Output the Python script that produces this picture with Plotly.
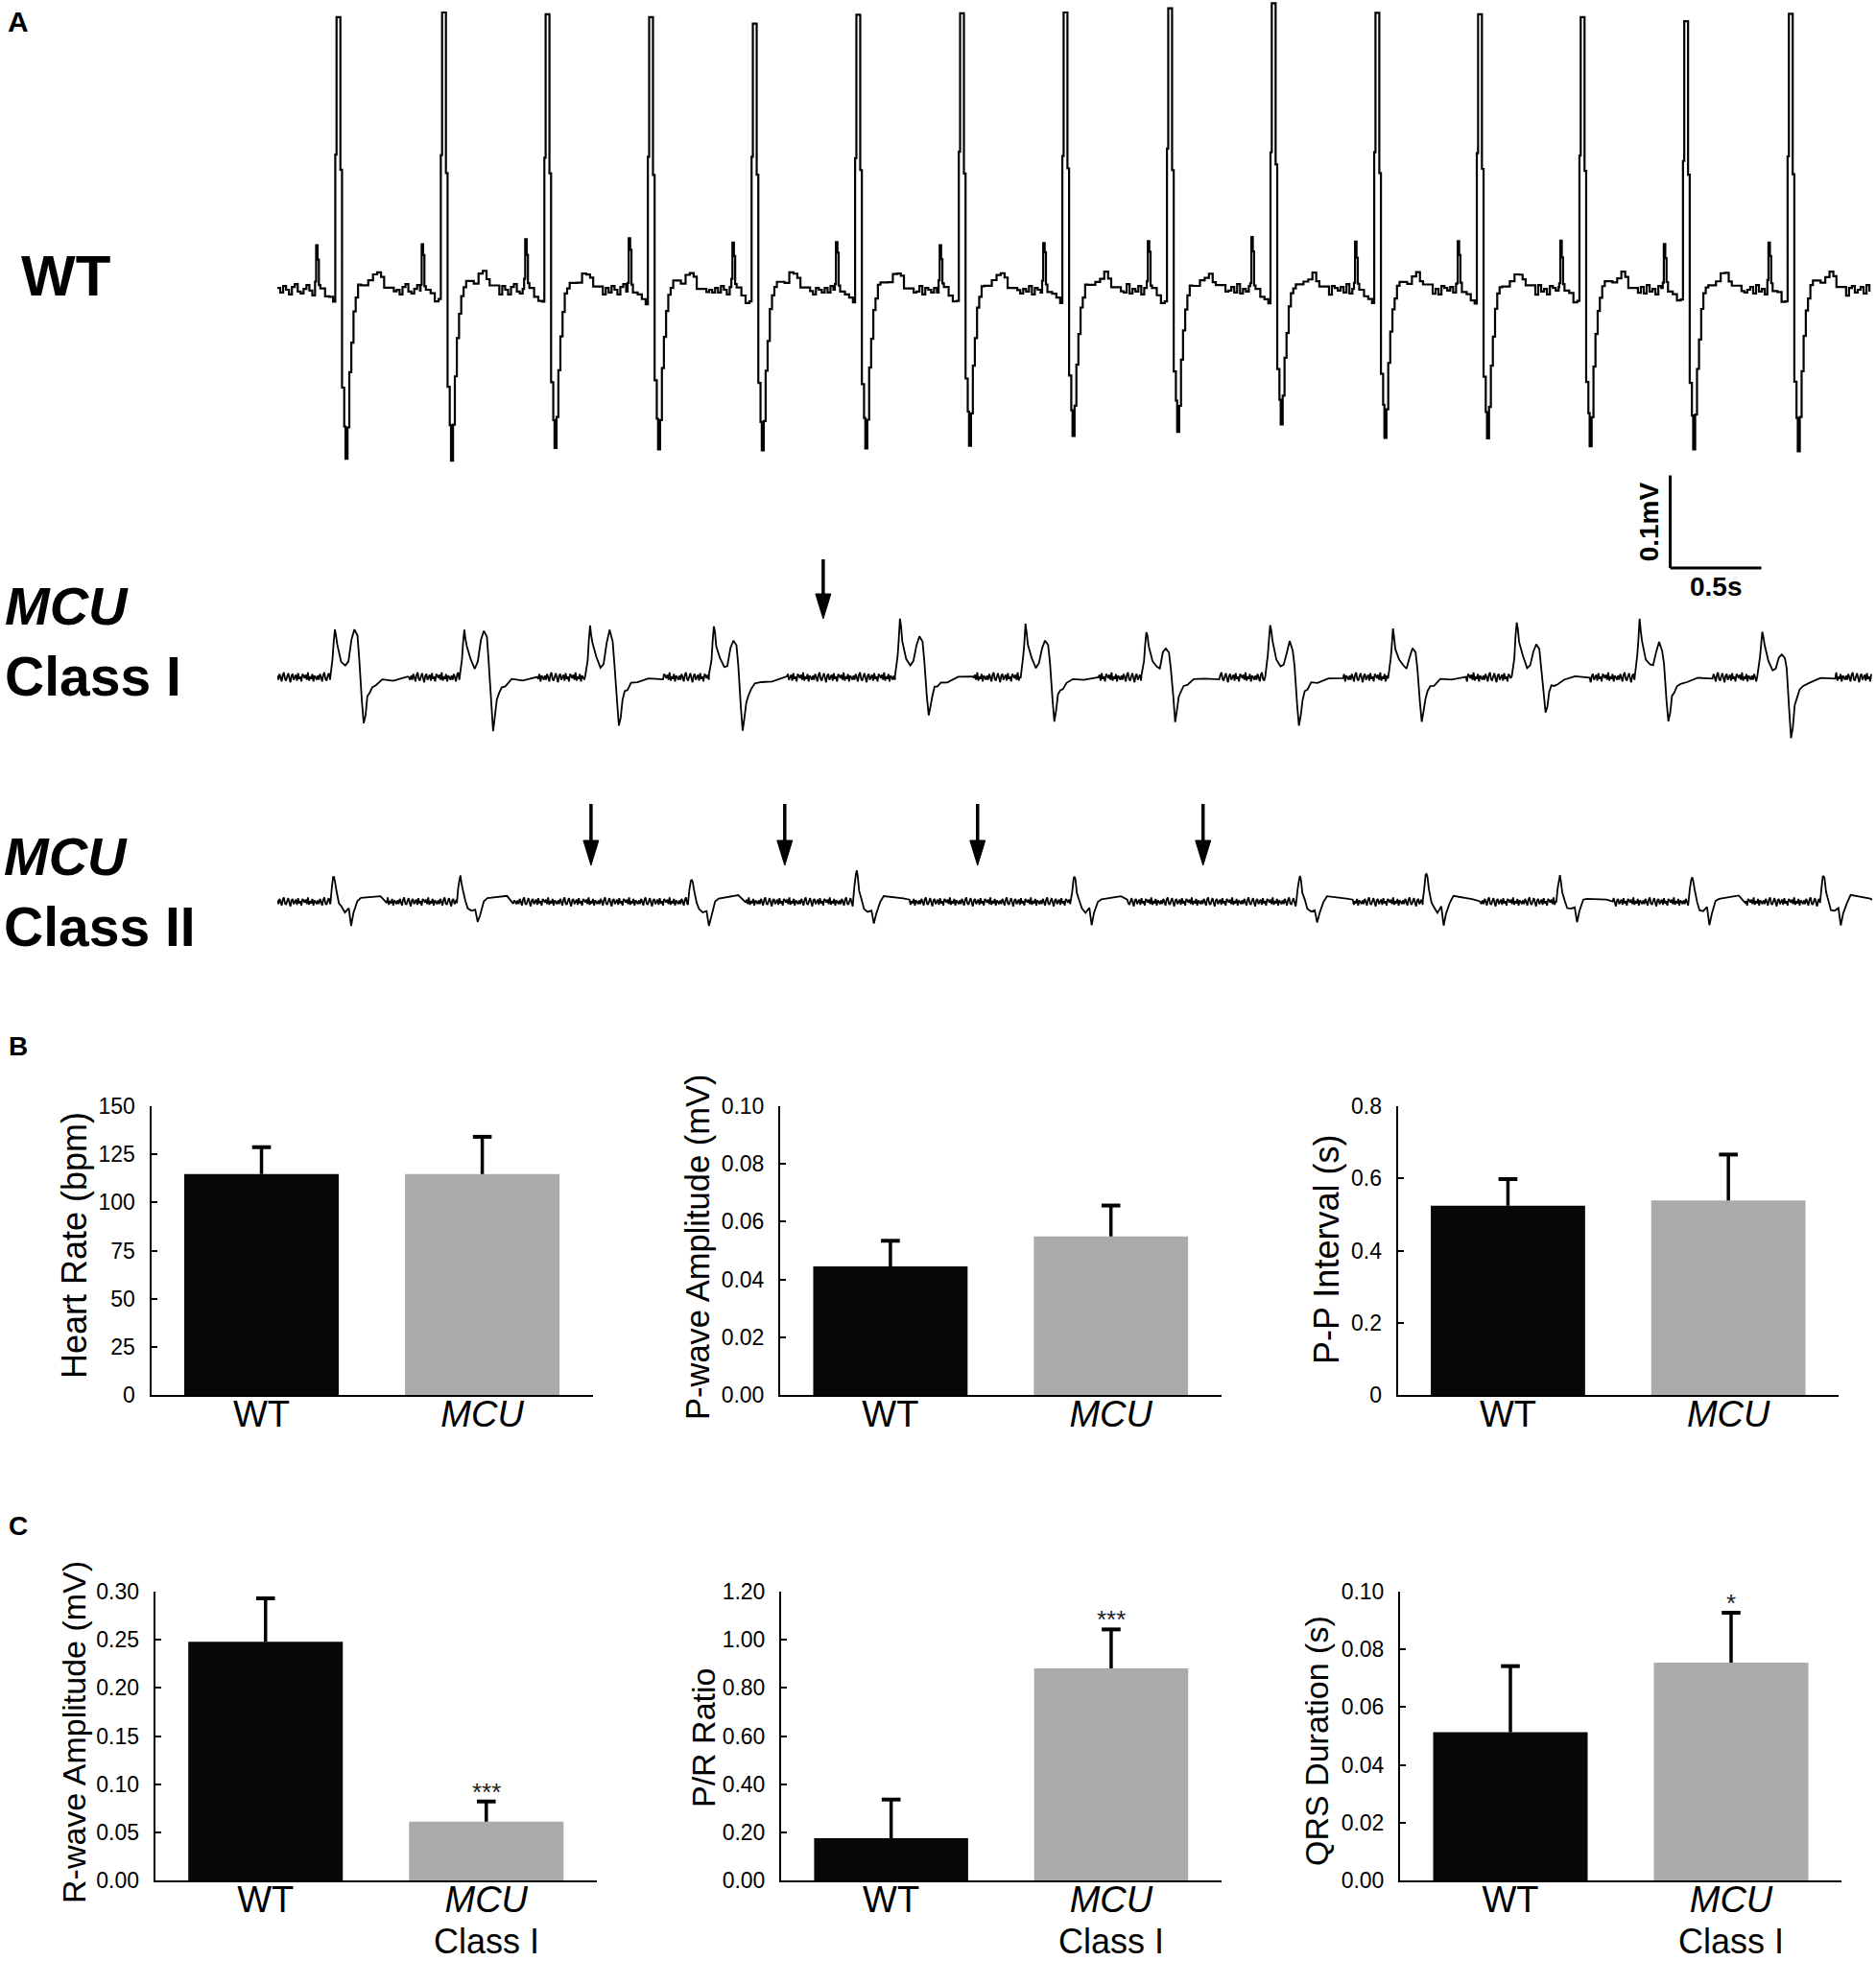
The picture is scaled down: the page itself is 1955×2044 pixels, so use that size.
import plotly.graph_objects as go

FIG_W, FIG_H = 1955, 2044
FONT = "Liberation Sans, Arial, Helvetica, sans-serif"
WT_COLOR = "#070707"
MCU_COLOR = "#adaaaa"

# ------------------------------------------------------------------
# Panel A - surface ECG. time in s, voltage in mV
# ------------------------------------------------------------------
TRACE_END_S = 8.75

# WT: R-peak times and per-beat P / R / S amplitudes
WT_BEATS = [0.332, 0.911, 1.479, 2.047, 2.616, 3.184, 3.753, 4.321,
            4.895, 5.463, 6.032, 6.595, 7.158, 7.726, 8.300]
WT_P_AMP = [0.046, 0.048, 0.055, 0.055, 0.052, 0.050, 0.048, 0.052,
            0.054, 0.056, 0.050, 0.052, 0.050, 0.048, 0.050]
WT_R_AMP = [0.297, 0.299, 0.295, 0.293, 0.289, 0.296, 0.299, 0.299,
            0.305, 0.308, 0.299, 0.299, 0.296, 0.289, 0.296]
WT_S_AMP = [0.184, 0.184, 0.173, 0.173, 0.176, 0.173, 0.167, 0.159,
            0.153, 0.146, 0.159, 0.162, 0.169, 0.171, 0.173]

# one WT complex: time from R (s), fraction of the part's amplitude, part (0=P, 1=R, 2=S)
WT_SHAPE_T = [-0.125, -0.119, -0.111, -0.104, -0.096, -0.070, -0.047, -0.026,
              -0.014, -0.007, 0.014, 0.023, 0.035, 0.042, 0.053, 0.063,
              0.074, 0.086, 0.098, 0.111, 0.125, 0.167, 0.193, 0.216,
              0.237, 0.254, 0.307]
WT_SHAPE_V = [0.17, 1.0, 0.74, 0.11, 0.0, -0.11, -0.22, -0.26,
              0.49, 1.0, 0.43, -0.58, -0.80, -1.0, -0.80, -0.50,
              -0.30, -0.13, -0.04, 0.02, 0.04, 0.05, 0.09, 0.11,
              0.07, 0.02, -0.02]
WT_SHAPE_PART = [0, 0, 0, 0, 0, 0, 0, 0,
                 1, 1, 1, 2, 2, 2, 2, 2,
                 2, 2, 2, 2, 2, 2, 2, 2,
                 2, 2, 2]

# MCU class I: first-peak times, per-beat peak 1 / peak 2 / trough amplitudes
C1_BEATS = [0.316, 1.026, 1.716, 2.395, 3.416, 4.105, 4.768, 5.447,
            6.121, 6.800, 7.474, 8.147]
C1_PK1_AMP = [0.053, 0.052, 0.056, 0.056, 0.062, 0.057, 0.051, 0.059,
              0.051, 0.061, 0.061, 0.051]
C1_PK2_AMP = [0.054, 0.052, 0.049, 0.041, 0.047, 0.042, 0.033, 0.037,
              0.031, 0.037, 0.037, 0.026]
C1_TR_AMP = [0.051, 0.056, 0.054, 0.059, 0.041, 0.046, 0.046, 0.054,
             0.049, 0.038, 0.048, 0.068]
C1_SHAPE_T = [-0.027, -0.013, -0.007, 0.0, 0.006, 0.013, 0.034, 0.057,
              0.074, 0.091, 0.107, 0.124, 0.134, 0.148, 0.158, 0.168,
              0.178, 0.190, 0.205, 0.225, 0.260, 0.320, 0.400]
C1_SHAPE_V = [0.0, 0.36, 0.67, 1.0, 0.85, 0.64, 0.35, 0.20,
              0.33, 0.75, 1.0, 0.80, 0.32, -0.5, -1.0, -0.78,
              -0.45, -0.30, -0.22, -0.15, -0.08, -0.03, 0.0]
C1_SHAPE_PART = [0, 0, 0, 0, 0, 0, 0, 0,
                 1, 1, 1, 1, 1, 2, 2, 2,
                 2, 2, 2, 2, 2, 2, 2]
C1_DROPPED = [2.995]

# MCU class II: spike times, per-beat spike / trough amplitudes
C2_BEATS = [0.311, 1.005, 2.274, 3.179, 4.374, 5.611, 6.305, 7.037,
            7.763, 8.484]
C2_PK_AMP = [0.028, 0.028, 0.026, 0.034, 0.028, 0.028, 0.032, 0.028,
             0.028, 0.029]
C2_TR_AMP = [0.024, 0.024, 0.028, 0.025, 0.024, 0.024, 0.024, 0.020,
             0.024, 0.025]
C2_SHAPE_T = [-0.020, -0.013, -0.005, 0.0, 0.005, 0.013, 0.027, 0.040,
              0.060, 0.081, 0.094, 0.107, 0.128, 0.148, 0.255, 0.289]
C2_SHAPE_V = [0.0, 0.44, 0.9, 1.0, 0.8, 0.40, 0.0, -0.28,
              -0.45, -0.30, -1.0, -0.55, 0.0, 0.2, 0.2, 0.0]
C2_SHAPE_PART = [0, 0, 0, 0, 0, 0, 0, 1,
                 1, 1, 1, 1, 1, 1, 1, 1]
C2_DROPPED = [1.721, 2.784, 3.842, 5.079]

# baseline wobble (mV)
BASE_JITTER = [0.002, -0.003, 0.004, 0.000, -0.005, 0.003, 0.006, -0.002,
               -0.004, 0.001, 0.005, -0.001, -0.006, 0.002, 0.004, -0.003,
               0.000, 0.003, -0.004, 0.005, -0.002, 0.001, -0.005, 0.004,
               0.002, -0.001, 0.003, -0.003, 0.006, -0.004, 0.001, -0.002,
               0.004, -0.005, 0.002, 0.000, -0.003]

# ------------------------------------------------------------------
# Panels B and C - group means and SEM
# ------------------------------------------------------------------
B_LABELS = ["WT", "<i>MCU</i>"]
C_LABELS = ["WT", "<i>MCU</i>"]
C_SUBLABEL = "Class I"

HR_MEAN = [114.8, 114.8]
HR_ERR = [13.9, 19.3]
PAMP_MEAN = [0.0445, 0.0549]
PAMP_ERR = [0.0089, 0.0107]
PP_MEAN = [0.524, 0.539]
PP_ERR = [0.074, 0.127]
RAMP_MEAN = [0.248, 0.061]
RAMP_ERR = [0.045, 0.021]
PR_MEAN = [0.175, 0.881]
PR_ERR = [0.161, 0.162]
QRS_MEAN = [0.0513, 0.0754]
QRS_ERR = [0.0229, 0.0173]

HR_TICKS = [0, 25, 50, 75, 100, 125, 150]
PAMP_TICKS = [0.0, 0.02, 0.04, 0.06, 0.08, 0.10]
PP_TICKS = [0, 0.2, 0.4, 0.6, 0.8]
RAMP_TICKS = [0.0, 0.05, 0.10, 0.15, 0.20, 0.25, 0.30]
PR_TICKS = [0.0, 0.2, 0.4, 0.6, 0.8, 1.0, 1.2]
QRS_TICKS = [0.0, 0.02, 0.04, 0.06, 0.08, 0.10]

RAMP_SIG = ["", "***"]
PR_SIG = ["", "***"]
QRS_SIG = ["", "*"]


def px_x(p):
    return p / FIG_W


def px_y(p):
    return 1 - p / FIG_H


def build_trace(beats, amps, shape_t, shape_v, shape_part, step, noise, offset):
    ts, vs = [], []
    t, k = 0.0, 0
    n = len(BASE_JITTER)

    def fill(until):
        nonlocal t, k
        while t < until:
            ts.append(t)
            vs.append(offset + noise * BASE_JITTER[k % n])
            t += step
            k += 1

    for i, bt in enumerate(beats):
        fill(bt + shape_t[0])
        for st, sv, sp in zip(shape_t, shape_v, shape_part):
            ts.append(bt + st)
            vs.append(offset + sv * amps[sp][i] + 0.5 * noise * BASE_JITTER[k % n])
            k += 1
        t = bt + shape_t[-1] + step
    fill(TRACE_END_S)
    return ts, vs


fig = go.Figure()
layout = {}
annotations = []
shapes = []

# ---------------- panel A ----------------
PX_PER_S = 190.0
PX_PER_MV = 965.0
WT_BASE_PX = 302
C1_OFFSET = (WT_BASE_PX - 706) / PX_PER_MV
C2_OFFSET = (WT_BASE_PX - 940) / PX_PER_MV

wt_t, wt_v = build_trace(WT_BEATS, [WT_P_AMP, WT_R_AMP, WT_S_AMP],
                         WT_SHAPE_T, WT_SHAPE_V, WT_SHAPE_PART, 0.016, 1.0, 0.0)
c1_t, c1_v = build_trace(C1_BEATS, [C1_PK1_AMP, C1_PK2_AMP, C1_TR_AMP],
                         C1_SHAPE_T, C1_SHAPE_V, C1_SHAPE_PART, 0.006, 0.9, C1_OFFSET)
c2_t, c2_v = build_trace(C2_BEATS, [C2_PK_AMP, C2_TR_AMP],
                         C2_SHAPE_T, C2_SHAPE_V, C2_SHAPE_PART, 0.006, 0.8, C2_OFFSET)

fig.add_trace(go.Scatter(x=wt_t, y=wt_v, mode="lines",
                         line=dict(color="black", width=2.2, shape="hv", simplify=False),
                         xaxis="x", yaxis="y"))
for tt, vv in [(c1_t, c1_v), (c2_t, c2_v)]:
    fig.add_trace(go.Scatter(x=tt, y=vv, mode="lines",
                             line=dict(color="black", width=1.8, simplify=False),
                             xaxis="x", yaxis="y"))

layout["xaxis"] = dict(domain=[px_x(289), px_x(1951)], range=[0, TRACE_END_S],
                       visible=False, fixedrange=True)
layout["yaxis"] = dict(domain=[px_y(1010), 1],
                       range=[(WT_BASE_PX - 1010) / PX_PER_MV, WT_BASE_PX / PX_PER_MV],
                       visible=False, fixedrange=True)

# scale bar 0.5 s x 0.1 mV
sb_t0 = (1741 - 289) / PX_PER_S
sb_v0 = (WT_BASE_PX - 592) / PX_PER_MV
bar_line = dict(color="black", width=3)
shapes.append(dict(type="line", xref="x", yref="y", x0=sb_t0, x1=sb_t0,
                   y0=sb_v0, y1=sb_v0 + 0.1, line=bar_line))
shapes.append(dict(type="line", xref="x", yref="y", x0=sb_t0, x1=sb_t0 + 0.5,
                   y0=sb_v0, y1=sb_v0, line=bar_line))
annotations.append(dict(text="<b>0.1mV</b>", xref="x", yref="y", x=sb_t0,
                        y=sb_v0 + 0.05, xshift=-22, textangle=-90, showarrow=False,
                        font=dict(size=28, color="black")))
annotations.append(dict(text="<b>0.5s</b>", xref="x", yref="y", x=sb_t0 + 0.25,
                        y=sb_v0, yshift=-19, showarrow=False,
                        font=dict(size=28, color="black")))

# arrows marking dropped beats
head_len = 26 / PX_PER_MV
head_hw = 8 / PX_PER_S
for times, tip_px, tail_px in [(C1_DROPPED, 645, 583), (C2_DROPPED, 902, 838)]:
    tip = (WT_BASE_PX - tip_px) / PX_PER_MV
    tail = (WT_BASE_PX - tail_px) / PX_PER_MV
    for t in times:
        shapes.append(dict(type="line", xref="x", yref="y", x0=t, x1=t,
                           y0=tail, y1=tip + head_len * 0.8,
                           line=dict(color="black", width=3.5)))
        shapes.append(dict(type="path", xref="x", yref="y",
                           path=f"M {t - head_hw},{tip + head_len} L {t + head_hw},{tip + head_len} L {t},{tip} Z",
                           fillcolor="black", line=dict(color="black", width=1)))

# row labels
for text, x0, yc, size in [
    ("<b>A</b>", 6, 22, 30),
    ("<b>WT</b>", 20, 287, 60),
    ("<b><i>MCU</i></b>", 3, 631, 56),
    ("<b>Class I</b>", 3, 705, 57),
    ("<b><i>MCU</i></b>", 2, 892, 56),
    ("<b>Class II</b>", 2, 966, 57),
    ("<b>B</b>", 7, 1090, 28),
    ("<b>C</b>", 7, 1590, 28),
]:
    annotations.append(dict(text=text, xref="paper", yref="paper", x=px_x(x0),
                            y=px_y(yc), xanchor="left", yanchor="middle",
                            showarrow=False, font=dict(size=size, color="black")))

# ---------------- panels B and C ----------------
bar_panels = [
    # idx, labels, mean, err, ticks, fmt, title, title size, x px, y px, title centre, sig
    (2, B_LABELS, HR_MEAN, HR_ERR, HR_TICKS, "", "Heart Rate (bpm)", 36,
     (157.5, 617.6), (1153, 1454), (77, 1298), None),
    (3, B_LABELS, PAMP_MEAN, PAMP_ERR, PAMP_TICKS, ".2f", "P-wave Amplitude (mV)", 34.5,
     (813, 1272.6), (1153, 1454), (727, 1300), None),
    (4, B_LABELS, PP_MEAN, PP_ERR, PP_TICKS, "", "P-P Interval (s)", 36,
     (1456.6, 1916), (1153, 1454), (1382, 1303), None),
    (5, C_LABELS, RAMP_MEAN, RAMP_ERR, RAMP_TICKS, ".2f", "R-wave Amplitude (mV)", 34,
     (161.7, 621.8), (1659, 1960), (77, 1806), RAMP_SIG),
    (6, C_LABELS, PR_MEAN, PR_ERR, PR_TICKS, ".2f", "P/R Ratio", 34,
     (814, 1272.6), (1659, 1960), (733, 1811), PR_SIG),
    (7, C_LABELS, QRS_MEAN, QRS_ERR, QRS_TICKS, ".2f", "QRS Duration (s)", 34,
     (1459, 1919), (1659, 1960), (1372, 1815), QRS_SIG),
]

for idx, labels, mean, err, ticks, fmt, title, tsize, xpx, ypx, tpos, sig in bar_panels:
    xa, ya = f"x{idx}", f"y{idx}"
    cats = list(range(len(mean)))
    fig.add_trace(go.Bar(x=cats, y=mean, width=0.7,
                         marker=dict(color=[WT_COLOR, MCU_COLOR], line=dict(width=0)),
                         xaxis=xa, yaxis=ya))
    tops = [m + e for m, e in zip(mean, err)]
    sx, sy = [], []
    for c, m, tp in zip(cats, mean, tops):
        sx += [c, c, None]
        sy += [m, tp, None]
    fig.add_trace(go.Scatter(x=sx, y=sy, mode="lines",
                             line=dict(color="black", width=3.5),
                             xaxis=xa, yaxis=ya, cliponaxis=False))
    fig.add_trace(go.Scatter(x=cats, y=tops, mode="markers",
                             marker=dict(symbol="line-ew", size=14,
                                         line=dict(color="black", width=4)),
                             xaxis=xa, yaxis=ya, cliponaxis=False))

    layout[f"xaxis{idx}"] = dict(
        domain=[px_x(xpx[0]), px_x(xpx[1])], range=[-0.5, 1.5], anchor=ya,
        tickvals=cats, ticktext=labels, ticks="", showline=True,
        linecolor="black", linewidth=2, showgrid=False, zeroline=False,
        tickfont=dict(size=38, color="black"), ticklabelstandoff=-15,
        automargin=False, fixedrange=True)
    layout[f"yaxis{idx}"] = dict(
        domain=[px_y(ypx[1]), px_y(ypx[0])], range=[0, ticks[-1]], anchor=xa,
        tickvals=ticks, tickformat=fmt, ticks="inside", ticklen=6, tickwidth=2,
        tickcolor="black", showline=True, linecolor="black", linewidth=2,
        showgrid=False, zeroline=False, tickfont=dict(size=23, color="black"),
        ticklabelstandoff=10, automargin=False, fixedrange=True)

    annotations.append(dict(text=title, xref="paper", yref="paper",
                            x=px_x(tpos[0]), y=px_y(tpos[1]), textangle=-90,
                            xanchor="center", yanchor="middle", showarrow=False,
                            font=dict(size=tsize, color="black")))
    if sig is not None:
        annotations.append(dict(text=C_SUBLABEL, xref=xa, yref="paper", x=1,
                                y=px_y(2023), yanchor="middle", showarrow=False,
                                font=dict(size=36, color="black")))
        for c, tp, s in zip(cats, tops, sig):
            if s:
                annotations.append(dict(text=s, xref=xa, yref=ya, x=c, y=tp,
                                        yanchor="middle", yshift=10,
                                        showarrow=False,
                                        font=dict(size=26, color="#222222")))

fig.update_layout(
    width=FIG_W, height=FIG_H,
    margin=dict(l=0, r=0, t=0, b=0),
    paper_bgcolor="white", plot_bgcolor="white",
    showlegend=False,
    font=dict(family=FONT, color="black"),
    annotations=annotations,
    shapes=shapes,
    **layout,
)

# pin the figure to the top-left corner of the page (no body margin, no page overflow)
PIN_JS = ("var gd=document.getElementById('{plot_id}');"
          "gd.style.position='fixed';gd.style.top='0px';gd.style.left='0px';"
          "document.body.style.margin='0px';")
fig.write_html("out.html", config={"displayModeBar": False}, post_script=PIN_JS)
